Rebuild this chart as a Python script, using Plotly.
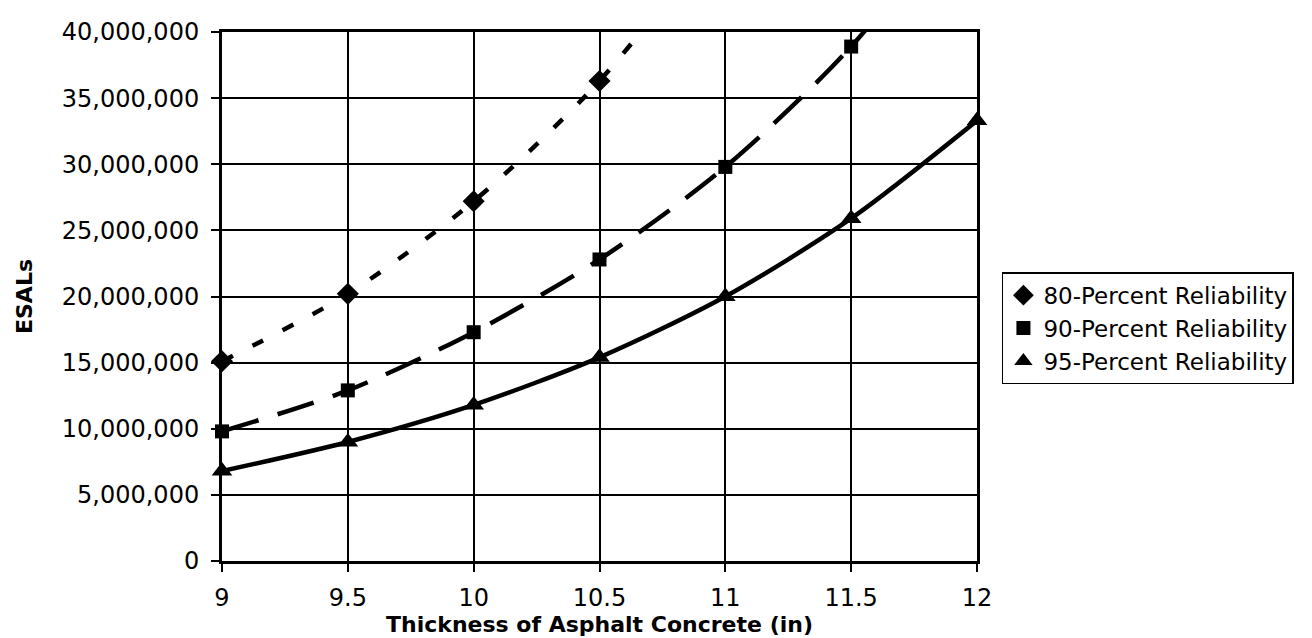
import plotly.graph_objects as go

thickness = [9, 9.5, 10, 10.5, 11, 11.5, 12]
esal_80 = [15.1e6, 20.2e6, 27.2e6, 36.3e6, 48.5e6, 64.7e6, 86.4e6]
esal_90 = [9.8e6, 12.9e6, 17.3e6, 22.8e6, 29.8e6, 38.9e6, 51.0e6]
esal_95 = [6.8e6, 9.0e6, 11.8e6, 15.4e6, 20.0e6, 25.9e6, 33.3e6]
series_names = ["80-Percent Reliability", "90-Percent Reliability", "95-Percent Reliability"]
y_ticks = [0, 5e6, 10e6, 15e6, 20e6, 25e6, 30e6, 35e6, 40e6]
x_ticks = [9, 9.5, 10, 10.5, 11, 11.5, 12]
Y_MAX = 40e6

FONT = "DejaVu Sans"
series = [
    (series_names[0], esal_80, "diamond", 17, "12px,22px", 4.5),
    (series_names[1], esal_90, "square", 14, "38px,20px", 4.5),
    (series_names[2], esal_95, "triangle-up", 18, "solid", 4.5),
]

fig = go.Figure()
for i, (name, ys, sym, msize, dash, lw) in enumerate(series):
    # smoothed line (clipped at the plot area)
    fig.add_trace(go.Scatter(
        x=thickness, y=ys, mode="lines", name=name, showlegend=False,
        line=dict(color="black", width=lw, dash=dash, shape="spline", smoothing=0.8),
        hoverinfo="skip",
    ))
    # markers for points inside the axis range
    mx = [x for x, y in zip(thickness, ys) if y <= Y_MAX]
    my = [y for y in ys if y <= Y_MAX]
    fig.add_trace(go.Scatter(
        x=mx, y=my, mode="markers", name=name, legendgroup=f"g{i}",
        marker=dict(symbol=sym, size=msize, color="black"),
        cliponaxis=False,
    ))

fig.update_layout(
    width=1312, height=638,
    margin=dict(l=214, r=343, t=24, b=85, autoexpand=False),
    paper_bgcolor="white", plot_bgcolor="white",
    font=dict(family=FONT, size=23, color="black"),
    showlegend=True,
    legend=dict(
        x=1.033, y=0.44, xanchor="left", yanchor="middle",
        bordercolor="black", borderwidth=1.5, bgcolor="white",
        font=dict(family=FONT, size=23, color="black"),
        tracegroupgap=5, itemwidth=30, traceorder="normal",
    ),
    xaxis=dict(
        range=[9, 12], tickvals=x_ticks, ticktext=[f"{v:g}" for v in x_ticks],
        showgrid=True, gridcolor="black", gridwidth=1.5,
        showline=True, linecolor="black", linewidth=3, mirror=True,
        ticks="outside", ticklen=8, tickwidth=1.5, tickcolor="black",
        ticklabelstandoff=5,
        tickfont=dict(family=FONT, size=24),
        title=dict(text="<b>Thickness of Asphalt Concrete (in)</b>",
                   font=dict(family=FONT, size=22), standoff=0),
        zeroline=False,
    ),
    yaxis=dict(
        range=[0, Y_MAX], tickvals=y_ticks, tickformat=",d",
        showgrid=True, gridcolor="black", gridwidth=1.5,
        showline=True, linecolor="black", linewidth=3, mirror=True,
        ticks="outside", ticklen=8, tickwidth=1.5, tickcolor="black",
        ticklabelstandoff=7,
        tickfont=dict(family=FONT, size=24),
        title=dict(text="<b>ESALs</b>", font=dict(family=FONT, size=22), standoff=24),
        zeroline=False,
    ),
)

fig.write_html("out.html")
